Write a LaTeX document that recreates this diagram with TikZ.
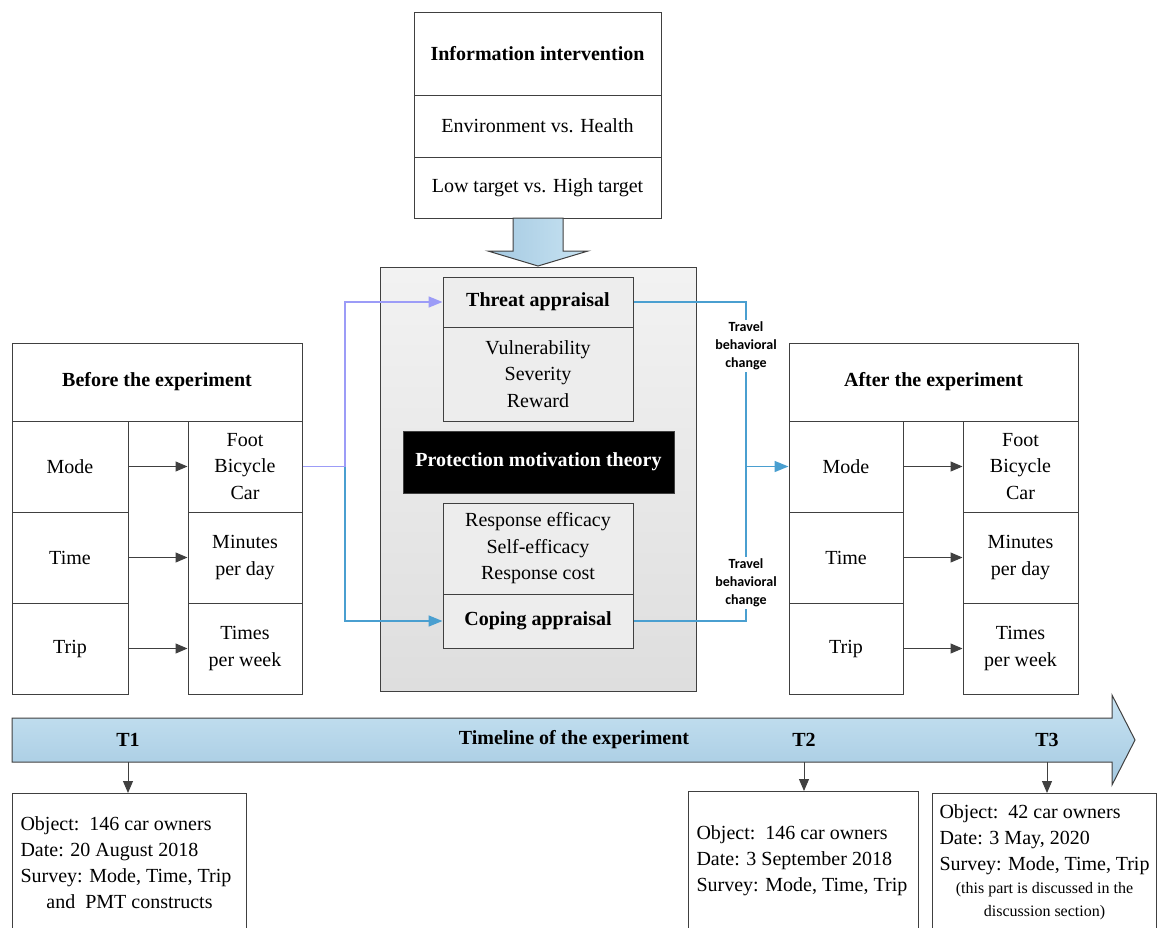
\documentclass[tikz,border=0pt]{standalone}
\usepackage{fontspec}
\setmainfont{Liberation Serif}
\newfontfamily\calfont{Carlito}
\usetikzlibrary{arrows.meta, positioning, shadings}

\definecolor{edge}{HTML}{404040}
\definecolor{lilac}{HTML}{9C9CF7}
\definecolor{steel}{HTML}{4A9FD0}
\definecolor{skyA}{HTML}{C8E3F2}
\definecolor{skyB}{HTML}{A4C9E1}

\tikzset{
  cell/.style={draw=edge, line width=1pt, fill=white, inner sep=0pt, align=center,
    font=\fontsize{20}{26.5}\selectfont},
  graycell/.style={cell, fill=black!7},
  arr/.style={-{Triangle[length=12pt,width=10pt]}, draw=edge, line width=1pt},
  flow/.style={-{Triangle[length=14pt,width=11pt]}, line width=1.6pt},
  link/.style={line width=1.6pt, steel},
  tbc/.style={font=\calfont\bfseries\fontsize{14}{18}\selectfont, align=center, inner sep=2pt},
  tl/.style={font=\bfseries\fontsize{20}{22}\selectfont},
  notebox/.style={draw=edge, line width=1pt, fill=white, inner sep=0pt, minimum height=138pt,
    font=\fontsize{20}{26}\selectfont}
}

\begin{document}
\begin{tikzpicture}[x=1pt, y=-1pt]
  \useasboundingbox (0,0) rectangle (1157,927);
  \clip (0,0) rectangle (1157,927);

  % Information intervention
  \node[cell, minimum width=247, minimum height=83] (info) at (537.5,53.5) {\bfseries Information intervention};
  \node[cell, minimum width=247, minimum height=62] (info2) at (537.5,126) {Environment vs. Health};
  \node[cell, minimum width=247, minimum height=61] (info3) at (537.5,187.5) {Low target vs. High target};

  % PMT block
  \node[draw=edge, line width=1pt, top color=black!5, bottom color=black!13, minimum width=316, minimum height=424] (pmtbox) at (538,479) {};
  \shadedraw[draw=edge, line width=1pt, left color=skyB, right color=skyA]
    (513,218) -- (513,251) -- (488,251) -- (538,266) -- (588,251) -- (563,251) -- (563,218) -- cycle;

  \node[graycell, minimum width=190, minimum height=50] (threat) at (538,302) {\bfseries Threat appraisal};
  \node[graycell, minimum width=190, minimum height=94] (threatlist) at (538,374) {Vulnerability\\Severity\\Reward};
  \node[cell, fill=black, text=white, minimum width=271, minimum height=62] (pmt) at (538.5,462) {\bfseries Protection motivation theory};
  \node[graycell, minimum width=190, minimum height=91] (copinglist) at (538,548.5) {Response efficacy\\Self-efficacy\\Response cost};
  \node[graycell, minimum width=190, minimum height=54] (coping) at (538,621) {\bfseries Coping appraisal};

  % Before the experiment
  \node[cell, minimum width=290, minimum height=78] (before) at (157,382) {\bfseries Before the experiment};
  \node[cell, minimum width=116, minimum height=91] (bmode) at (70,466.5) {Mode};
  \node[cell, minimum width=116, minimum height=91] (btime) at (70,557.5) {Time};
  \node[cell, minimum width=116, minimum height=91] (btrip) at (70,648.5) {Trip};
  \node[cell, minimum width=114, minimum height=91] (bfoot) at (245,466.5) {Foot\\Bicycle\\Car};
  \node[cell, minimum width=114, minimum height=91] (bmin) at (245,557.5) {Minutes\\per day};
  \node[cell, minimum width=114, minimum height=91] (btimes) at (245,648.5) {Times\\per week};
  \draw[arr] (bmode) -- (bfoot);
  \draw[arr] (btime) -- (bmin);
  \draw[arr] (btrip) -- (btimes);

  % After the experiment
  \node[cell, minimum width=289, minimum height=78] (after) at (933.5,382) {\bfseries After the experiment};
  \node[cell, minimum width=114, minimum height=91] (amode) at (846,466.5) {Mode};
  \node[cell, minimum width=114, minimum height=91] (atime) at (846,557.5) {Time};
  \node[cell, minimum width=114, minimum height=91] (atrip) at (846,648.5) {Trip};
  \node[cell, minimum width=115, minimum height=91] (afoot) at (1020.5,466.5) {Foot\\Bicycle\\Car};
  \node[cell, minimum width=115, minimum height=91] (amin) at (1020.5,557.5) {Minutes\\per day};
  \node[cell, minimum width=115, minimum height=91] (atimes) at (1020.5,648.5) {Times\\per week};
  \draw[arr] (amode) -- (afoot);
  \draw[arr] (atime) -- (amin);
  \draw[arr] (atrip) -- (atimes);

  % Into the appraisals
  \coordinate (split) at (345,466.5);
  \draw[flow, lilac] (bfoot.east) -- (split) |- (threat.west);
  \draw[flow, steel] (split) |- (coping.west);

  % Travel behavioral change
  \node[tbc] (tbc1) at (746,346) {Travel\\behavioral\\change};
  \node[tbc] (tbc2) at (746,583) {Travel\\behavioral\\change};
  \coordinate (merge) at (746,466.5);
  \draw[link] (threat.east) -| (tbc1.north);
  \draw[link] (tbc1.south) -- (tbc2.north);
  \draw[link] (coping.east) -| (tbc2.south);
  \draw[flow, steel] (merge) -- (amode.west);

  % Timeline
  \shadedraw[draw=edge, line width=1pt, top color=skyA, bottom color=skyB]
    (12,718) -- (1112,718) -- (1112,695) -- (1135,740) -- (1112,785) -- (1112,762) -- (12,762) -- cycle;
  \coordinate (tlbase) at (0,762);
  \node[tl] (t1) at (128,740) {T1};
  \node[tl] (tline) at (574,740) {Timeline of the experiment};
  \node[tl] (t2) at (804,740) {T2};
  \node[tl] (t3) at (1047,740) {T3};

  % Surveys
  \node[notebox, minimum width=234, anchor=north west] (obj1) at (12,793) {%
    \parbox{218pt}{\raggedright Object:\ \ 146 car owners\\Date: 20 August 2018\\Survey: Mode, Time, Trip\par\centering and\ \ PMT constructs\par}};
  \node[notebox, minimum width=230, anchor=north west] (obj2) at (688,791) {%
    \parbox{214pt}{\raggedright Object:\ \ 146 car owners\\Date: 3 September 2018\\Survey: Mode, Time, Trip}};
  \node[notebox, minimum width=224, anchor=north west] (obj3) at (932,793) {%
    \parbox{210pt}{\raggedright Object:\ \ 42 car owners\\Date: 3 May, 2020\\Survey: Mode, Time, Trip\par
    \centering\fontsize{16}{23}\selectfont (this part is discussed in the\\discussion section)\par}};

  \draw[arr] (t1 |- tlbase) -- (t1 |- obj1.north);
  \draw[arr] (t2 |- tlbase) -- (t2 |- obj2.north);
  \draw[arr] (t3 |- tlbase) -- (t3 |- obj3.north);
\end{tikzpicture}
\end{document}
